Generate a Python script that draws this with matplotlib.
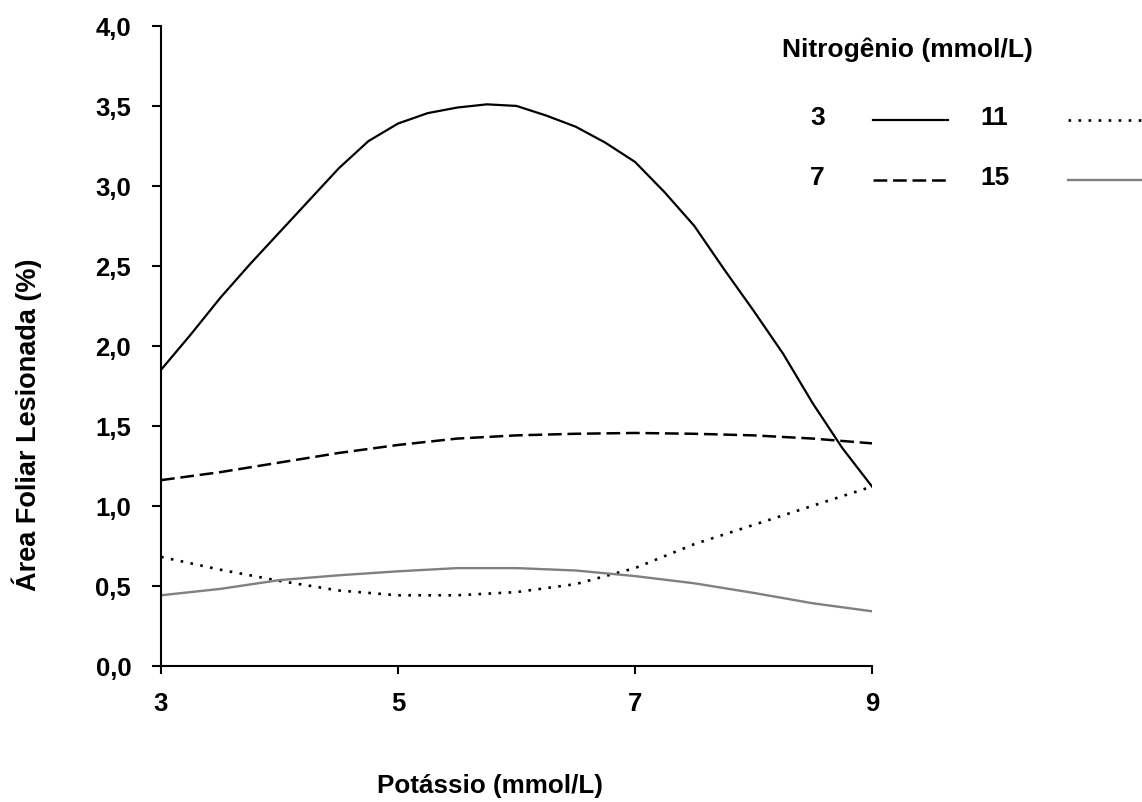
import matplotlib
matplotlib.use("Agg")
import matplotlib.pyplot as plt
from matplotlib.lines import Line2D

plt.rcParams['font.family'] = ['Liberation Sans', 'DejaVu Sans']
plt.rcParams['font.weight'] = 'bold'

# dados
potassio_fino = [3.0, 3.25, 3.5, 3.75, 4.0, 4.25, 4.5, 4.75, 5.0, 5.25, 5.5, 5.75, 6.0,
                 6.25, 6.5, 6.75, 7.0, 7.25, 7.5, 7.75, 8.0, 8.25, 8.5, 8.75, 9.0]
n3 = [1.85, 2.07, 2.30, 2.51, 2.71, 2.91, 3.11, 3.28, 3.39, 3.455, 3.49, 3.51, 3.50,
      3.44, 3.37, 3.27, 3.15, 2.96, 2.75, 2.48, 2.22, 1.95, 1.64, 1.36, 1.12]

potassio = [3.0, 3.5, 4.0, 4.5, 5.0, 5.5, 6.0, 6.5, 7.0, 7.5, 8.0, 8.5, 9.0]
n7 = [1.16, 1.21, 1.27, 1.33, 1.38, 1.42, 1.44, 1.45, 1.455, 1.45, 1.44, 1.42, 1.39]
n11 = [0.68, 0.60, 0.53, 0.47, 0.44, 0.44, 0.46, 0.51, 0.61, 0.76, 0.88, 1.00, 1.12]
n15 = [0.44, 0.48, 0.535, 0.565, 0.59, 0.61, 0.61, 0.595, 0.56, 0.515, 0.455, 0.39, 0.34]

xticks = [3, 5, 7, 9]
yticks = [0.0, 0.5, 1.0, 1.5, 2.0, 2.5, 3.0, 3.5, 4.0]

estilo_n3 = dict(color='black', linestyle='-', linewidth=1.6)
estilo_n7 = dict(color='black', linestyle=(0, (5.5, 2.3)), linewidth=1.8)
estilo_n11 = dict(color='black', linestyle=(0, (1, 2.8)), linewidth=1.9)
estilo_n15 = dict(color='#808080', linestyle='-', linewidth=1.7)

fig = plt.figure(figsize=(11.42, 8.03), dpi=100)
ax = fig.add_axes([0.1410, 0.1698, 0.6226, 0.7966])

ax.plot(potassio_fino, n3, **estilo_n3)
ax.plot(potassio, n7, **estilo_n7)
ax.plot(potassio, n11, **estilo_n11)
ax.plot(potassio, n15, **estilo_n15)

ax.set_xlim(3, 9)
ax.set_ylim(0, 4)
ax.set_xticks(xticks)
ax.set_xticklabels([str(t) for t in xticks])
ax.set_yticks(yticks)
ax.set_yticklabels([f'{t:.1f}'.replace('.', ',') for t in yticks])

for s in ['top', 'right']:
    ax.spines[s].set_visible(False)
for s in ['left', 'bottom']:
    ax.spines[s].set_linewidth(1.5)
ax.spines['bottom'].set_zorder(0)

ax.tick_params(axis='y', direction='out', length=6.5, width=1.5, pad=15, labelsize=18.5)
ax.tick_params(axis='x', direction='out', length=6, width=1.5, pad=12, labelsize=18.5)
for lbl in ax.get_xticklabels() + ax.get_yticklabels():
    lbl.set_fontweight('bold')

# rótulos dos eixos
fig.text(490 / 1142, 1 - 786 / 803, 'Potássio (mmol/L)', ha='center', va='center',
         fontsize=18.7, fontweight='bold')
fig.text(27 / 1142, 1 - 425 / 803, 'Área Foliar Lesionada (%)', ha='center', va='center',
         rotation=90, fontsize=19.5, fontweight='bold')

# legenda manual
W, H = 1142, 803
fig.text(782 / W, 1 - 50 / H, 'Nitrogênio (mmol/L)', ha='left', va='center',
         fontsize=19, fontweight='bold')
itens = [('3', estilo_n3, 810, 873, 118),
         ('7', estilo_n7, 810, 873, 178),
         ('11', estilo_n11, 980, 1068, 118),
         ('15', estilo_n15, 980, 1068, 178)]
for nome, est, xt, xl, yc in itens:
    fig.text(xt / W, 1 - yc / H, nome, ha='left', va='center', fontsize=19, fontweight='bold')
    comp = 75 if nome in ('3', '7') else 80
    fig.add_artist(Line2D([xl / W, (xl + comp) / W], [1 - (yc + 3) / H, 1 - (yc + 3) / H],
                          transform=fig.transFigure, **est))

fig.savefig('out.png', dpi=100)
